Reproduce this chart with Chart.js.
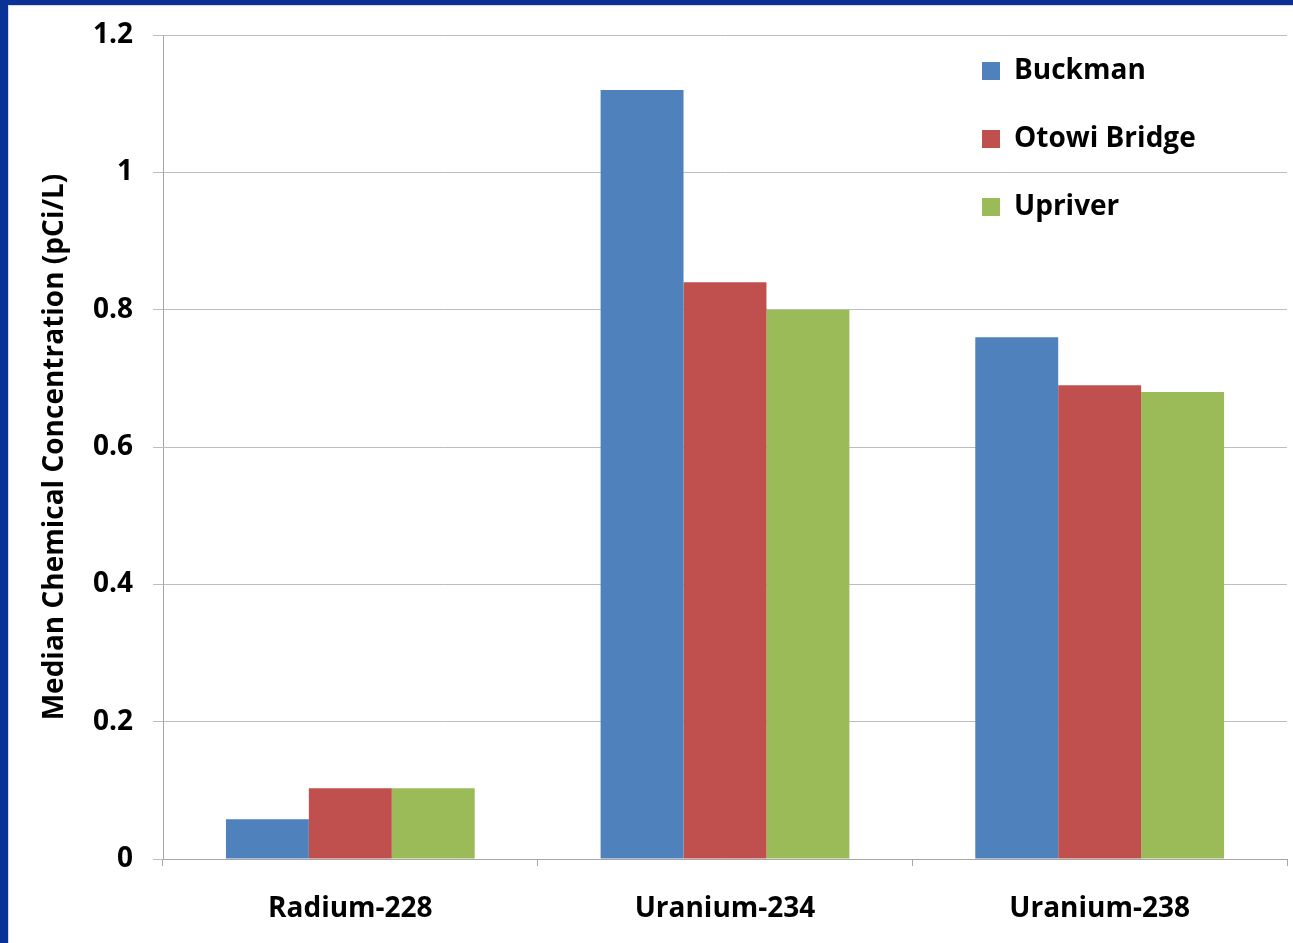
<!DOCTYPE html>
<html>
<head>
<meta charset="utf-8">
<script src="https://cdn.jsdelivr.net/npm/chart.js@4.4.1/dist/chart.umd.min.js"></script>
<style>
  html, body { margin: 0; padding: 0; }
  body { width: 1293px; height: 943px; background: #0a3296; position: relative; overflow: hidden; }
  #frame { position: absolute; left: 8px; top: 5px; width: 1285px; height: 938px; background: #d8d8d8; }
  #c { position: absolute; left: 9px; top: 6px; background: #ffffff; }
</style>
</head>
<body>
<div id="frame"></div>
<canvas id="c" width="1284" height="937"></canvas>
<script>
const categories = ['Radium-228', 'Uranium-234', 'Uranium-238'];
const seriesNames = ['Buckman', 'Otowi Bridge', 'Upriver'];
const buckman = [0.058, 1.12, 0.76];
const otowiBridge = [0.103, 0.84, 0.69];
const upriver = [0.103, 0.80, 0.68];
const seriesColors = ['#4F81BD', '#C0504D', '#9BBB59'];
const yAxisTitle = 'Median Chemical Concentration (pCi/L)';

const FONT = '"Open Sans", Lato, sans-serif';
const FS = 28;

const legendPlacer = {
  id: 'legendPlacer',
  afterLayout(chart) {
    const lg = chart.legend;
    if (!lg) return;
    const pad = lg.options.labels.padding;
    lg.left = 973 - pad;
    lg.top = 51 - pad;
  }
};

new Chart(document.getElementById('c'), {
  type: 'bar',
  data: {
    labels: categories,
    datasets: [
      { label: seriesNames[0], data: buckman, backgroundColor: seriesColors[0] },
      { label: seriesNames[1], data: otowiBridge, backgroundColor: seriesColors[1] },
      { label: seriesNames[2], data: upriver, backgroundColor: seriesColors[2] }
    ]
  },
  options: {
    responsive: false,
    animation: false,
    devicePixelRatio: 1,
    layout: { padding: { top: 29, right: 6, left: 0, bottom: 0 } },
    datasets: { bar: { categoryPercentage: 0.664, barPercentage: 1.0, borderWidth: 0 } },
    plugins: {
      tooltip: { enabled: false },
      legend: {
        position: 'chartArea',
        align: 'start',
        labels: {
          boxWidth: 18, boxHeight: 18, padding: 40, color: '#000',
          font: { family: FONT, size: FS, weight: 'bold' }
        }
      }
    },
    scales: {
      x: {
        afterFit(s) { s.height = 84; s.paddingLeft = 0; s.paddingRight = 0; },
        grid: { offset: true, drawOnChartArea: false, color: '#a6a6a6', tickLength: 7 },
        border: { color: '#a6a6a6' },
        ticks: { color: '#000', padding: 26, maxRotation: 0, autoSkip: false,
                 font: { family: FONT, size: FS, weight: 'bold' } }
      },
      y: {
        min: 0, max: 1.2,
        afterFit(s) { s.width = 154; s.paddingTop = 0; s.paddingBottom = 0; },
        grid: { color: '#bdbdbd', tickLength: 10 },
        border: { color: '#a6a6a6' },
        ticks: { stepSize: 0.2, color: '#000', padding: 20,
                 callback: (v) => String(Number(v.toFixed(1))),
                 font: { family: FONT, size: FS, weight: 'bold' } },
        title: { display: true, text: yAxisTitle, color: '#000',
                 padding: { top: 29, bottom: 0 },
                 font: { family: FONT, size: FS, weight: 'bold' } }
      }
    }
  },
  plugins: [legendPlacer]
});
</script>
</body>
</html>
